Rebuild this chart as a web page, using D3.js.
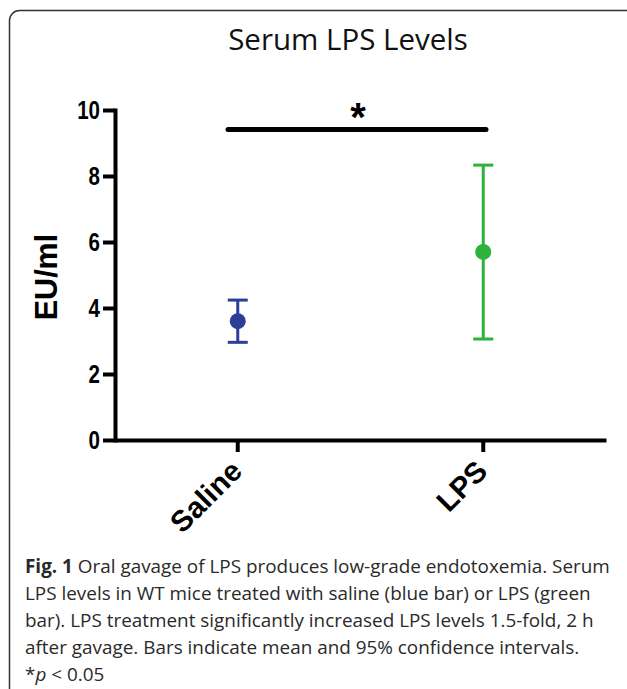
<!DOCTYPE html>
<html>
<head>
<meta charset="utf-8">
<script src="https://cdn.jsdelivr.net/npm/d3@7"></script>
<style>
  body { margin: 0; background: #fff; }
  svg { display: block; }
</style>
</head>
<body>
<svg id="chart" width="627" height="689"></svg>
<script>
// Serum LPS measurements: mean with 95% confidence interval per group
const groups = ["Saline", "LPS"];
const means = [3.6, 5.7];
const ciLower = [2.96, 3.06];
const ciUpper = [4.24, 8.33];
const groupColors = ["#2d3e98", "#2cb33b"];
const yTicks = [0, 2, 4, 6, 8, 10];
const chartTitle = "Serum LPS Levels";
const yLabel = "EU/ml";
const sigMark = "*";
const captionLead = "Fig. 1";
const captionLines = [
  " Oral gavage of LPS produces low-grade endotoxemia. Serum",
  "LPS levels in WT mice treated with saline (blue bar) or LPS (green",
  "bar). LPS treatment significantly increased LPS levels 1.5-fold, 2 h",
  "after gavage. Bars indicate mean and 95% confidence intervals."
];

const svg = d3.select("#chart");

// outer panel frame
svg.append("rect")
  .attr("x", 9.5).attr("y", 10.5)
  .attr("width", 626).attr("height", 700)
  .attr("rx", 10)
  .attr("fill", "none")
  .attr("stroke", "#333")
  .attr("stroke-width", 1.5);

const plot = { left: 115, right: 606, top: 110, bottom: 440 };

const x = d3.scaleBand().domain(groups).range([plot.left, plot.right]).padding(0);
const y = d3.scaleLinear().domain([0, 10]).range([plot.bottom, plot.top]);
const cx = g => x(g) + x.bandwidth() / 2;

// title
svg.append("text")
  .attr("x", 348).attr("y", 50)
  .attr("text-anchor", "middle")
  .attr("font-family", "'Open Sans', sans-serif")
  .attr("font-size", 29.5)
  .attr("fill", "#111")
  .text(chartTitle);

// y axis
const yAxis = svg.append("g")
  .attr("transform", `translate(${plot.left},0)`)
  .call(d3.axisLeft(y).tickValues(yTicks).tickSize(12).tickSizeOuter(0).tickPadding(3));
yAxis.select(".domain").attr("stroke", "#000").attr("stroke-width", 4).attr("stroke-linecap", "square");
yAxis.selectAll(".tick line").attr("stroke", "#000").attr("stroke-width", 4);
yAxis.selectAll(".tick text")
  .attr("font-family", "'Liberation Sans', Arial, sans-serif")
  .attr("font-weight", "bold")
  .attr("font-size", 25)
  .attr("dy", "0.35em")
  .attr("fill", "#000")
  .each(function () {
    // condensed digits: squeeze glyphs horizontally
    const w = this.getComputedTextLength();
    d3.select(this).attr("textLength", w * 0.82).attr("lengthAdjust", "spacingAndGlyphs");
  });

// x axis
const xAxis = svg.append("g")
  .attr("transform", `translate(0,${plot.bottom})`)
  .call(d3.axisBottom(x).tickSize(12).tickSizeOuter(0).tickFormat(""));
xAxis.select(".domain").attr("stroke", "#000").attr("stroke-width", 4);
xAxis.selectAll(".tick line").attr("stroke", "#000").attr("stroke-width", 4);

// rotated category labels
svg.append("g").selectAll("text")
  .data(groups)
  .join("text")
  .attr("transform", g => `translate(${cx(g) + 6},${plot.bottom + 33}) rotate(-45)`)
  .attr("text-anchor", "end")
  .attr("font-family", "'Liberation Sans', Arial, sans-serif")
  .attr("font-weight", "bold")
  .attr("font-size", 29.5)
  .attr("fill", "#000")
  .text(g => g);

// y axis title
svg.append("text")
  .attr("transform", `translate(57,277) rotate(-90)`)
  .attr("text-anchor", "middle")
  .attr("font-family", "'Liberation Sans', Arial, sans-serif")
  .attr("font-weight", "bold")
  .attr("font-size", 30.5)
  .attr("fill", "#000")
  .text(yLabel);

// error bars with mean points
const marks = svg.append("g").selectAll("g")
  .data(groups.map((g, i) => ({ g, mean: means[i], lo: ciLower[i], hi: ciUpper[i], color: groupColors[i] })))
  .join("g");

marks.append("line")
  .attr("x1", d => cx(d.g)).attr("x2", d => cx(d.g))
  .attr("y1", d => y(d.lo)).attr("y2", d => y(d.hi))
  .attr("stroke", d => d.color).attr("stroke-width", 3);
marks.selectAll("line.cap")
  .data(d => [{ v: d.lo, d }, { v: d.hi, d }])
  .join("line")
  .attr("class", "cap")
  .attr("x1", c => cx(c.d.g) - 10).attr("x2", c => cx(c.d.g) + 10)
  .attr("y1", c => y(c.v)).attr("y2", c => y(c.v))
  .attr("stroke", c => c.d.color).attr("stroke-width", 3);
marks.append("circle")
  .attr("cx", d => cx(d.g)).attr("cy", d => y(d.mean))
  .attr("r", 8)
  .attr("fill", d => d.color);

// significance bracket
svg.append("line")
  .attr("x1", 228).attr("x2", 486)
  .attr("y1", 129.5).attr("y2", 129.5)
  .attr("stroke", "#000").attr("stroke-width", 5)
  .attr("stroke-linecap", "round");
svg.append("text")
  .attr("x", 358).attr("y", 131)
  .attr("text-anchor", "middle")
  .attr("font-family", "'Liberation Sans', Arial, sans-serif")
  .attr("font-weight", "bold")
  .attr("font-size", 40)
  .attr("fill", "#000")
  .text(sigMark);

// caption
const cap = svg.append("g")
  .attr("font-family", "'Open Sans', sans-serif")
  .attr("font-size", 18.9)
  .attr("fill", "#2a2a2a");
const first = cap.append("text").attr("x", 25).attr("y", 573);
first.append("tspan").attr("font-weight", "bold").text(captionLead);
first.append("tspan").text(captionLines[0]);
captionLines.slice(1).forEach((line, i) => {
  cap.append("text").attr("x", 25).attr("y", 573 + 27 * (i + 1)).text(line);
});
const last = cap.append("text").attr("x", 25).attr("y", 573 + 27 * 4);
last.append("tspan").text("*");
last.append("tspan").attr("font-style", "italic").text("p");
last.append("tspan").text(" < 0.05");
</script>
</body>
</html>
